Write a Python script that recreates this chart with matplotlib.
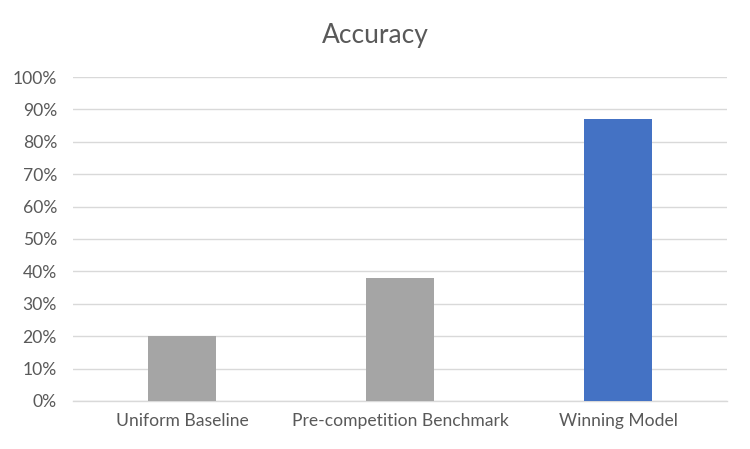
import matplotlib
matplotlib.use("Agg")
import matplotlib.pyplot as plt
from matplotlib.ticker import PercentFormatter, MultipleLocator

categories = ["Uniform Baseline", "Pre-competition Benchmark", "Winning Model"]
accuracy = [0.20, 0.38, 0.87]
bar_colors = ["#a5a5a5", "#a5a5a5", "#4472c4"]

plt.rcParams["font.family"] = ["Lato", "DejaVu Sans"]

fig = plt.figure(figsize=(7.5, 4.49), dpi=100)
ax = fig.add_axes([0.0973, 0.107, 0.872, 0.7215])

x = range(len(categories))
ax.bar(x, accuracy, width=0.312, color=bar_colors, zorder=3)

ax.set_xlim(-0.5, len(categories) - 0.5)
ax.set_ylim(0, 1.0)
ax.yaxis.set_major_locator(MultipleLocator(0.1))
ax.yaxis.set_major_formatter(PercentFormatter(1.0, decimals=0))
ax.set_xticks(list(x))
ax.set_xticklabels(categories)

ax.grid(axis="y", color="#d9d9d9", linewidth=1.0, zorder=0)
for side in ["top", "right", "left"]:
    ax.spines[side].set_visible(False)
ax.spines["bottom"].set_color("#d9d9d9")
ax.spines["bottom"].set_linewidth(1.0)

ax.tick_params(axis="both", length=0, labelsize=12.6, labelcolor="#595959")
ax.tick_params(axis="x", pad=9)
ax.tick_params(axis="y", pad=11.5)

fig.text(0.5, 0.921, "Accuracy", ha="center", va="center",
         fontsize=19, color="#595959")

fig.savefig("out.png", dpi=100, facecolor="white")
